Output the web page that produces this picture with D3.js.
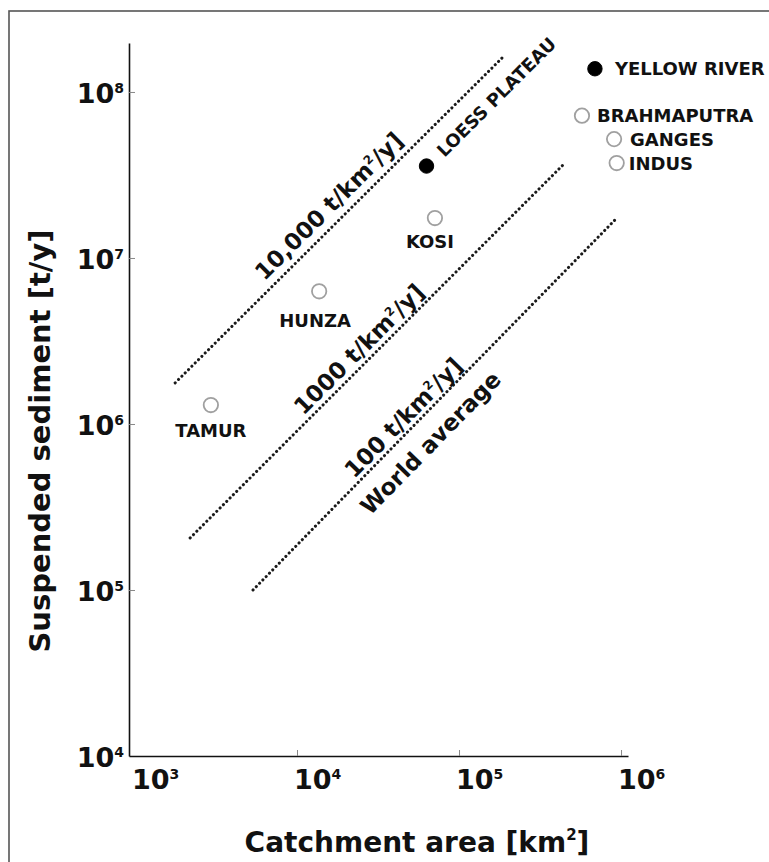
<!DOCTYPE html>
<html>
<head>
<meta charset="utf-8">
<script src="https://cdn.jsdelivr.net/npm/d3@7/dist/d3.min.js"></script>
<style>
  html, body { margin: 0; padding: 0; background: #fff; }
  svg { display: block; }
  text { font-family: "DejaVu Sans", Verdana, sans-serif; font-weight: bold; fill: #111; }
</style>
</head>
<body>
<svg id="chart" width="769" height="862"></svg>
<script>
// ---------- data ----------
const riverNames        = ["YELLOW RIVER", "LOESS PLATEAU", "KOSI", "HUNZA", "TAMUR", "BRAHMAPUTRA", "GANGES", "INDUS"];
const catchmentArea     = [6.9e5, 6.3e4, 7.1e4, 1.37e4, 2.94e3, 5.74e5, 9.06e5, 9.4e5];   // km²
const suspendedSediment = [1.38e8, 3.58e7, 1.74e7, 6.3e6, 1.3e6, 7.2e7, 5.2e7, 3.73e7];   // t/y
const isFilled          = [true, true, false, false, false, false, false, false];

// reference yield lines
const yieldLabels   = ["10,000", "1000", "100"];
const lineStartArea = [1.77e3, 2.19e3, 5.35e3];
const lineStartSed  = [1.77e6, 2.06e5, 1.0e5];
const lineEndArea   = [1.84e5, 4.5e5, 9.2e5];
const lineEndSed    = [1.6e8, 3.73e7, 1.7e7];

const xTickValues = [1e3, 1e4, 1e5, 1e6];
const yTickValues = [1e4, 1e5, 1e6, 1e7, 1e8];

const xTitle = "Catchment area [km";
const yTitle = "Suspended sediment [t/y]";
const worldAverageLabel = "World average";

// ---------- layout ----------
const svg = d3.select("#chart");
const x = d3.scaleLog().domain([Math.pow(10, 2.963), Math.pow(10, 6.043)]).range([129, 628]);
const y = d3.scaleLog().domain([1e4, Math.pow(10, 8.295)]).range([756, 43]);

// outer frame
svg.append("rect").attr("x", 9).attr("y", 11).attr("width", 790).attr("height", 900)
  .attr("fill", "none").attr("stroke", "#555").attr("stroke-width", 1.6);

// axes
const xAxis = d3.axisBottom(x).tickValues(xTickValues).tickSizeInner(-6).tickSizeOuter(0).tickFormat("");
const gx = svg.append("g").attr("transform", `translate(0,${y(1e4)})`).call(xAxis);
const yAxis = d3.axisLeft(y).tickValues(yTickValues).tickSizeInner(-6).tickSizeOuter(0).tickFormat("");
const gy = svg.append("g").attr("transform", `translate(${x.range()[0]},0)`).call(yAxis);
[gx, gy].forEach(g => {
  g.select(".domain").attr("stroke", "#111").attr("stroke-width", 1.6);
  g.selectAll(".tick line").attr("stroke", "#888").attr("stroke-width", 1);
});
gx.selectAll(".tick").filter(d => d === 1e3).select("line").remove();
gy.selectAll(".tick").filter(d => d === 1e4).select("line").remove();

// tick labels with superscript exponents
function powLabel(sel, d, big, small, rise) {
  sel.append("tspan").text("10").attr("font-size", big);
  sel.append("tspan").text(Math.round(Math.log10(d))).attr("font-size", small).attr("dy", -rise);
}
xTickValues.forEach(d => {
  const t = svg.append("text").attr("x", x(d) - 3).attr("y", y(1e4) + 33).attr("text-anchor", "start");
  powLabel(t, d, 27, 14, 10);
});
yTickValues.forEach(d => {
  const t = svg.append("text").attr("x", 124).attr("y", y(d) + 11).attr("text-anchor", "end");
  powLabel(t, d, 27, 14, 10);
});

// axis titles
const xt = svg.append("text").attr("x", 417).attr("y", 852).attr("text-anchor", "middle").attr("font-size", 28);
xt.append("tspan").text(xTitle);
xt.append("tspan").text("2").attr("font-size", 15).attr("dy", -12);
xt.append("tspan").text("]").attr("dy", 12);
svg.append("text").attr("transform", `translate(50,441) rotate(-90)`).attr("text-anchor", "middle")
  .attr("font-size", 29).text(yTitle);

// yield lines
const lineLayout = [ {t: 0.507, off: 17}, {t: 0.477, off: 14}, {t: 0.441, off: 13} ];
yieldLabels.forEach((lab, i) => {
  const p1 = [x(lineStartArea[i]), y(lineStartSed[i])];
  const p2 = [x(lineEndArea[i]), y(lineEndSed[i])];
  svg.append("line").attr("x1", p1[0]).attr("y1", p1[1]).attr("x2", p2[0]).attr("y2", p2[1])
    .attr("stroke", "#1a1a1a").attr("stroke-width", 3).attr("stroke-linecap", "round")
    .attr("stroke-dasharray", "0.1,4.6");
  const dx = p2[0] - p1[0], dy = p2[1] - p1[1], len = Math.hypot(dx, dy);
  const n = [dy / len, -dx / len];
  const ang = Math.atan2(dy, dx) * 180 / Math.PI;
  const place = (t, off) => [p1[0] + t * dx + n[0] * off, p1[1] + t * dy + n[1] * off];
  const L = lineLayout[i];
  const c = place(L.t, L.off);
  const txt = svg.append("text").attr("transform", `translate(${c[0]},${c[1]}) rotate(${ang})`)
    .attr("text-anchor", "middle").attr("dy", "0.35em").attr("font-size", 23);
  txt.append("tspan").text(lab + " t/km");
  txt.append("tspan").text("2").attr("font-size", 12).attr("dy", -9);
  txt.append("tspan").text("/y]").attr("dy", 9);
  if (i === 2) {
    const c2 = place(0.443, -24);
    svg.append("text").attr("transform", `translate(${c2[0]},${c2[1]}) rotate(${ang})`)
      .attr("text-anchor", "middle").attr("dy", "0.35em").attr("font-size", 23).text(worldAverageLabel);
  }
});

// points
riverNames.forEach((name, i) => {
  svg.append("circle").attr("cx", x(catchmentArea[i])).attr("cy", y(suspendedSediment[i])).attr("r", 7.2)
    .attr("fill", isFilled[i] ? "#000" : "#fff")
    .attr("stroke", isFilled[i] ? "#000" : "#a0a0a0").attr("stroke-width", isFilled[i] ? 1 : 1.8);
});

// point labels (offsets from the point, in pixels)
const labelLayout = {
  "YELLOW RIVER":  {dx: 20, dy: 6, anchor: "start", rot: 0},
  "LOESS PLATEAU": {dx: 18, dy: -8, anchor: "start", rot: -45},
  "KOSI":          {dx: -5, dy: 30, anchor: "middle", rot: 0},
  "HUNZA":         {dx: -4, dy: 36, anchor: "middle", rot: 0},
  "TAMUR":         {dx: 0, dy: 32, anchor: "middle", rot: 0},
  "BRAHMAPUTRA":   {dx: 15, dy: 6, anchor: "start", rot: 0},
  "GANGES":        {dx: 16, dy: 7, anchor: "start", rot: 0},
  "INDUS":         {dx: 12, dy: 7, anchor: "start", rot: 0}
};
riverNames.forEach((name, i) => {
  const L = labelLayout[name];
  const px = x(catchmentArea[i]) + L.dx, py = y(suspendedSediment[i]) + L.dy;
  svg.append("text").attr("transform", `translate(${px},${py}) rotate(${L.rot})`)
    .attr("text-anchor", L.anchor).attr("font-size", 18).text(name);
});
</script>
</body>
</html>
